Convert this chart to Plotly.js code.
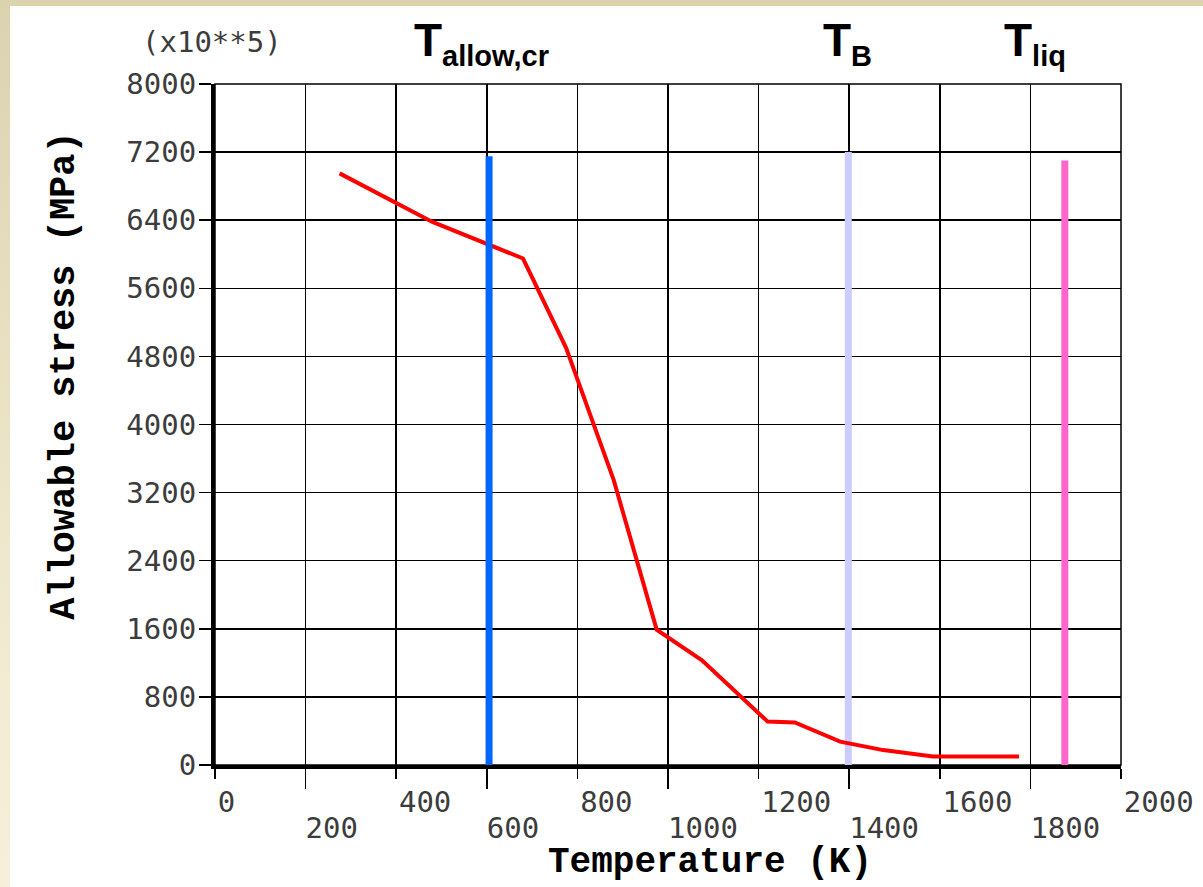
<!DOCTYPE html>
<html>
<head>
<meta charset="utf-8">
<script src="https://cdn.plot.ly/plotly-3.0.1.min.js"></script>
<style>
  html, body { margin: 0; padding: 0; width: 1203px; height: 887px; overflow: hidden;
    background: linear-gradient(to bottom, #dbd2ae 0%, #efe7cc 60%, #f7efd9 100%); }
  #chart { position: absolute; left: 10px; top: 6px; width: 1193px; height: 881px; }
</style>
</head>
<body>
<div id="chart"></div>
<script>
// ---- data ----
const temperature = [275, 480, 680, 775, 880, 975, 1075, 1220, 1280, 1380, 1475, 1585, 1775];
const allowStress = [6950, 6380, 5950, 4900, 3350, 1590, 1230, 510, 500, 275, 175, 100, 100];

const markerNames = ['T_allow,cr', 'T_B', 'T_liq'];
const markerTemps = [605, 1398, 1876];
const markerTops  = [7150, 7200, 7100];
const markerColors = ['#0066ff', '#ccccff', '#ff66cc'];

const xTickUpper = [0, 400, 800, 1200, 1600, 2000];
const xTickLower = [200, 600, 1000, 1400, 1800];
const yTicks = [0, 800, 1600, 2400, 3200, 4000, 4800, 5600, 6400, 7200, 8000];

const xTitle = 'Temperature (K)';
const yTitle = 'Allowable stress (MPa)';
const yMultiplier = '(x10**5)';
const markerMain = ['T', 'T', 'T'];
const markerSubs = ['allow,cr', 'B', 'liq'];

// ---- traces ----
const traces = [];
[1, 2].forEach(i => traces.push({
  x: [markerTemps[i], markerTemps[i]], y: [0, markerTops[i]],
  mode: 'lines', line: {color: markerColors[i], width: 7}, name: markerNames[i],
  hoverinfo: 'skip', showlegend: false
}));
traces.push({
  x: temperature, y: allowStress, mode: 'lines',
  line: {color: '#ff0000', width: 4}, showlegend: false, name: 'stress'
});
traces.push({
  x: [markerTemps[0], markerTemps[0]], y: [0, markerTops[0]],
  mode: 'lines', line: {color: markerColors[0], width: 7}, name: markerNames[0],
  hoverinfo: 'skip', showlegend: false
});
traces.push({x: [0, 2000], y: [0, 0], xaxis: 'x2', mode: 'lines',
  line: {width: 0, color: 'rgba(0,0,0,0)'}, hoverinfo: 'skip', showlegend: false});

const tickFont = {family: 'DejaVu Sans Mono, Liberation Mono, monospace', size: 29, color: '#3c3c3c'};
const titleFont = {family: 'Liberation Mono, DejaVu Sans Mono, monospace', size: 36, color: '#000', weight: 'bold'};

const annotations = [
  {text: yMultiplier, xref: 'paper', yref: 'paper', x: -0.083, y: 1.062,
   xanchor: 'left', yanchor: 'middle', showarrow: false, font: tickFont},
  {text: '<b>' + xTitle + '</b>', xref: 'paper', yref: 'paper', x: 0.546, y: -0.143,
   xanchor: 'center', yanchor: 'middle', showarrow: false, font: titleFont},
  {text: '<b>' + yTitle + '</b>', xref: 'paper', yref: 'paper', x: -0.166, y: 0.571,
   xanchor: 'center', yanchor: 'middle', textangle: -90, showarrow: false,
   font: Object.assign({}, titleFont, {size: 37})}
];
const labelX = [0.2175, 0.6685, 0.869];
markerMain.forEach((t, i) => annotations.push({
  text: '<b>' + t + '<sub><span style="font-size:29px">' + markerSubs[i] + '</span></sub></b>',
  xref: 'paper', yref: 'paper', x: labelX[i], y: 1.105,
  xanchor: 'left', yanchor: 'top', showarrow: false,
  font: {family: 'Liberation Sans, Arial, sans-serif', size: 46, color: '#000'}
}));

const layout = {
  width: 1193, height: 881,
  margin: {l: 205, r: 82, t: 78, b: 122, pad: 0},
  paper_bgcolor: '#ffffff', plot_bgcolor: '#ffffff',
  showlegend: false,
  xaxis: {
    range: [0, 2000], tickmode: 'array', tickvals: xTickUpper,
    ticktext: xTickUpper.map(String),
    ticks: 'outside', ticklen: 10, tickwidth: 1.5, tickcolor: '#000',
    showline: true, linewidth: 4, linecolor: '#000',
    showgrid: true, gridcolor: '#000', gridwidth: 1.5, zeroline: false,
    minor: {tickmode: 'array', tickvals: xTickLower, ticks: 'outside', ticklen: 20,
            tickwidth: 1.5, tickcolor: '#000', showgrid: true, gridcolor: '#000', gridwidth: 1.5},
    ticklabelposition: 'outside right', ticklabelstandoff: 8,
    tickfont: tickFont, fixedrange: true
  },
  xaxis2: {
    range: [0, 2000], overlaying: 'x', anchor: 'y', side: 'bottom',
    tickmode: 'array', tickvals: xTickLower, ticktext: xTickLower.map(String),
    ticks: '', showgrid: false, showline: false, zeroline: false,
    ticklabelposition: 'outside right', ticklabelstandoff: 43,
    tickfont: tickFont, fixedrange: true
  },
  yaxis: {
    range: [0, 8000], tickmode: 'array', tickvals: yTicks, ticktext: yTicks.map(String),
    ticks: 'outside', ticklen: 12, tickwidth: 1.5, tickcolor: '#000',
    showline: true, linewidth: 4, linecolor: '#000',
    showgrid: true, gridcolor: '#000', gridwidth: 1.5, zeroline: false,
    ticklabelstandoff: -3,
    tickfont: tickFont, fixedrange: true
  },
  shapes: [
    {type: 'rect', xref: 'paper', yref: 'paper', x0: 0, x1: 1, y0: 0, y1: 1,
     line: {color: '#000', width: 1.5}, layer: 'below'}
  ],
  annotations: annotations
};

Plotly.newPlot('chart', traces, layout, {displayModeBar: false, staticPlot: true});
</script>
</body>
</html>
